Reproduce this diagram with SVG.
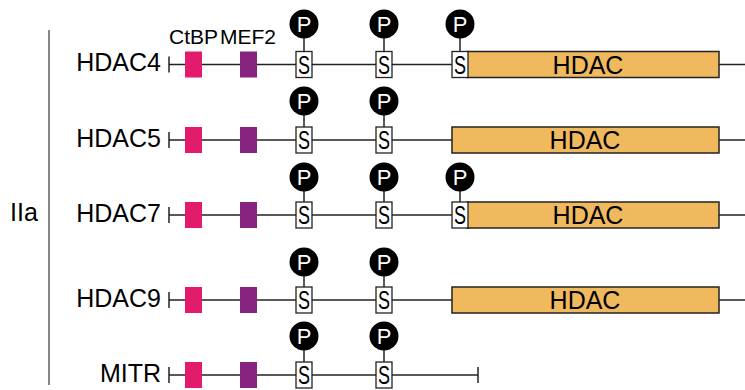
<svg xmlns="http://www.w3.org/2000/svg" width="745" height="390" viewBox="0 0 745 390">
<style>
text{font-family:"Liberation Sans",Arial,sans-serif;fill:#000}
.lab{font-size:25px;text-anchor:end}
.bb{stroke:#222;stroke-width:1.5;fill:none}
.ctbp{fill:#E31B6D}
.mef{fill:#85237F}
.s{fill:#fff;stroke:#222;stroke-width:1.3}
.st{font-size:25px}
.pc{fill:#000}
.pt{font-size:22px;text-anchor:middle;fill:#fff}
.stem{stroke:#222;stroke-width:1.5}
.hd{fill:#F0B95E;stroke:#222;stroke-width:1.5}
.ht{font-size:25px;text-anchor:middle}
</style>
<defs>
<g id="phos">
<rect class="s" x="-8" y="-13" width="16" height="26"/>
<text class="st" x="-6" y="9" textLength="12" lengthAdjust="spacingAndGlyphs">S</text>
</g>
<g id="pb">
<circle class="pc" cx="0" cy="0" r="14.5"/>
<text class="pt" x="0" y="8">P</text>
</g>
</defs>
<line x1="49" y1="30" x2="49" y2="385" stroke="#888" stroke-width="2"/>
<text x="10" y="221" style="font-size:25px">IIa</text>
<text x="169" y="44" style="font-size:21px">CtBP</text>
<text x="220" y="44" style="font-size:21px">MEF2</text>
<g id="connectors">
<line class="bb" x1="169" y1="64.5" x2="745" y2="64.5"/>
<line class="bb" x1="169" y1="140" x2="745" y2="140"/>
<line class="bb" x1="169" y1="215" x2="745" y2="215"/>
<line class="bb" x1="169" y1="300" x2="745" y2="300"/>
<line class="bb" x1="169" y1="375" x2="478" y2="375"/>
</g>
<g id="hdac4">
<text class="lab" x="161" y="71">HDAC4</text>
<line class="bb" x1="169" y1="56.5" x2="169" y2="72.5"/>
<rect class="ctbp" x="185" y="51.5" width="17" height="26"/>
<rect class="mef" x="240" y="51.5" width="17" height="26"/>
<rect class="hd" x="467" y="51.5" width="252" height="26"/>
<text class="ht" x="588" y="73.5">HDAC</text>
<use href="#phos" x="304" y="64.5"/><use href="#phos" x="384" y="64.5"/><use href="#phos" x="460" y="64.5"/>
<line class="stem" x1="304" y1="38" x2="304" y2="51.5"/><line class="stem" x1="384" y1="38" x2="384" y2="51.5"/><line class="stem" x1="460" y1="38" x2="460" y2="51.5"/>
<use href="#pb" x="304" y="24"/><use href="#pb" x="384" y="24"/><use href="#pb" x="460" y="24"/>
</g>
<g id="hdac5">
<text class="lab" x="161" y="147">HDAC5</text>
<line class="bb" x1="169" y1="132" x2="169" y2="148"/>
<rect class="ctbp" x="185" y="127" width="17" height="26"/>
<rect class="mef" x="240" y="127" width="17" height="26"/>
<rect class="hd" x="452" y="127" width="267" height="26"/>
<text class="ht" x="585" y="149">HDAC</text>
<use href="#phos" x="304" y="140"/><use href="#phos" x="384" y="140"/>
<line class="stem" x1="304" y1="115" x2="304" y2="127"/><line class="stem" x1="384" y1="115" x2="384" y2="127"/>
<use href="#pb" x="304" y="101"/><use href="#pb" x="384" y="101"/>
</g>
<g id="hdac7">
<text class="lab" x="161" y="222">HDAC7</text>
<line class="bb" x1="169" y1="207" x2="169" y2="223"/>
<rect class="ctbp" x="185" y="202" width="17" height="26"/>
<rect class="mef" x="240" y="202" width="17" height="26"/>
<rect class="hd" x="467" y="202" width="252" height="26"/>
<text class="ht" x="588" y="224">HDAC</text>
<use href="#phos" x="304" y="215"/><use href="#phos" x="384" y="215"/><use href="#phos" x="460" y="215"/>
<line class="stem" x1="304" y1="191" x2="304" y2="202"/><line class="stem" x1="384" y1="191" x2="384" y2="202"/><line class="stem" x1="460" y1="191" x2="460" y2="202"/>
<use href="#pb" x="304" y="177"/><use href="#pb" x="384" y="177"/><use href="#pb" x="460" y="177"/>
</g>
<g id="hdac9">
<text class="lab" x="161" y="307">HDAC9</text>
<line class="bb" x1="169" y1="292" x2="169" y2="308"/>
<rect class="ctbp" x="185" y="287" width="17" height="26"/>
<rect class="mef" x="240" y="287" width="17" height="26"/>
<rect class="hd" x="452" y="287" width="267" height="26"/>
<text class="ht" x="585" y="309">HDAC</text>
<use href="#phos" x="304" y="300"/><use href="#phos" x="384" y="300"/>
<line class="stem" x1="304" y1="276" x2="304" y2="287"/><line class="stem" x1="384" y1="276" x2="384" y2="287"/>
<use href="#pb" x="304" y="262"/><use href="#pb" x="384" y="262"/>
</g>
<g id="mitr">
<text class="lab" x="161" y="382">MITR</text>
<line class="bb" x1="169" y1="367" x2="169" y2="383"/>
<line class="bb" x1="478" y1="367" x2="478" y2="383"/>
<rect class="ctbp" x="185" y="362" width="17" height="26"/>
<rect class="mef" x="240" y="362" width="17" height="26"/>
<use href="#phos" x="304" y="375"/><use href="#phos" x="384" y="375"/>
<line class="stem" x1="304" y1="350" x2="304" y2="362"/><line class="stem" x1="384" y1="350" x2="384" y2="362"/>
<use href="#pb" x="304" y="336"/><use href="#pb" x="384" y="336"/>
</g>
</svg>
